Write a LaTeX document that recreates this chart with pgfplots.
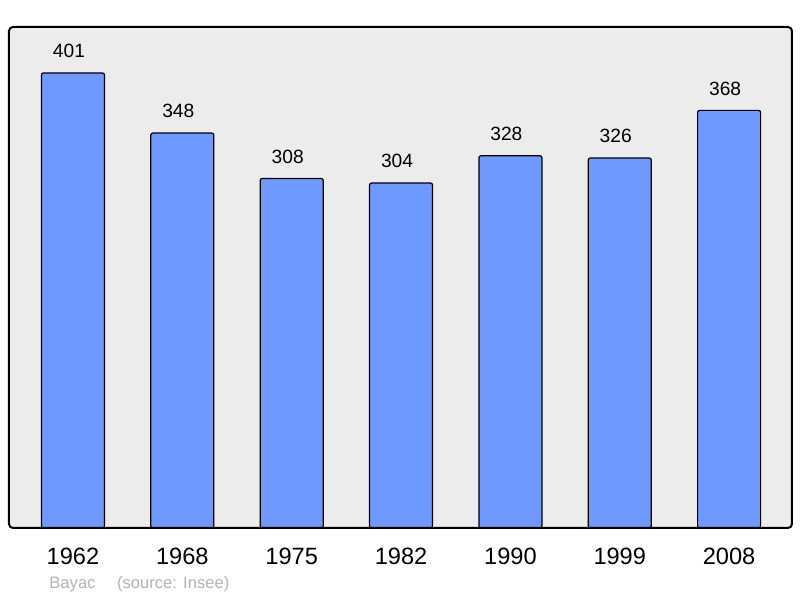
\documentclass[border=0pt]{standalone}
\usepackage{fontspec}
\setmainfont{Liberation Sans}
\usepackage{pgfplots}
\pgfplotsset{compat=1.18}
\definecolor{barblue}{RGB}{112,153,255}
\definecolor{bggray}{RGB}{236,236,236}
\definecolor{srcgray}{RGB}{180,180,180}

\begin{document}
\begin{tikzpicture}
\path[use as bounding box] (0,0) rectangle (400pt,299pt);
\begin{axis}[
  at={(4.5pt,35pt)}, anchor=south west,
  width=391.5pt, height=250.5pt, scale only axis,
  ymin=0, ymax=441.5,
  xmin=-0.585, xmax=6.575,
  ybar, bar width=31.5pt,
  axis background/.style={fill=bggray},
  axis line style={draw=none},
  ytick=\empty,
  xtick={0,1,2,3,4,5,6},
  xticklabels={1962,1968,1975,1982,1990,1999,2008},
  major tick length=0pt,
  xticklabel style={anchor=center, yshift=-14pt, font=\fontsize{11.8}{13}\selectfont},
  nodes near coords,
  nodes near coords style={anchor=center, xshift=-2pt, yshift=11pt, font=\fontsize{9.6}{11}\selectfont},
  /pgf/number format/assume math mode=true,
  clip=false,
]
\addplot[fill=barblue, draw=black, line width=0.6pt, rounded corners=1pt] coordinates {
  (0,401) (1,348) (2,308) (3,304) (4,328) (5,326) (6,368)
};
\draw[line width=1pt, rounded corners=2pt] (rel axis cs:0,0) rectangle (rel axis cs:1,1);
\end{axis}
\node[anchor=west, text=srcgray, font=\fontsize{8.3}{10}\selectfont, inner sep=0pt] at (24.5pt,7pt) {Bayac\hspace{1.3em}(source: Insee)};
\end{tikzpicture}
\end{document}
